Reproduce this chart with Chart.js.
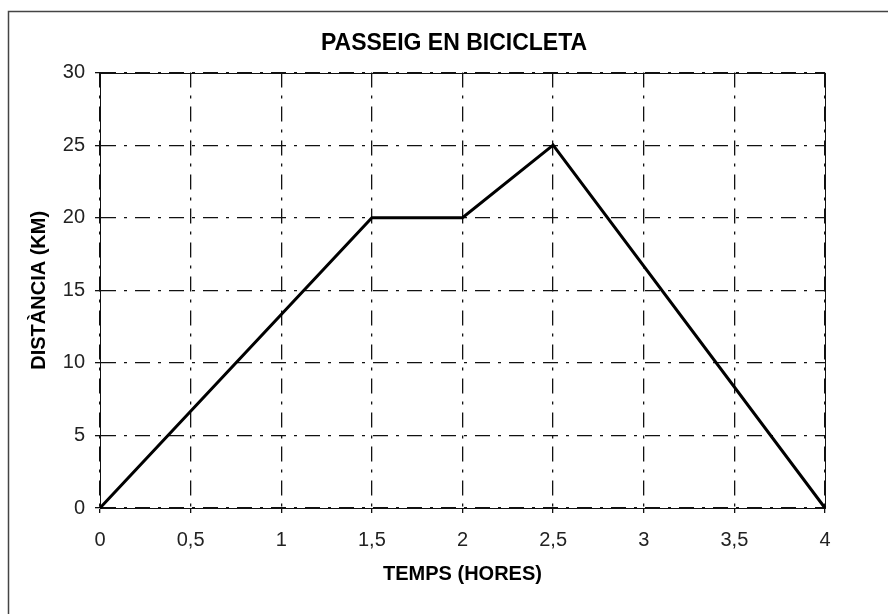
<!DOCTYPE html>
<html>
<head>
<meta charset="utf-8">
<script src="https://cdn.jsdelivr.net/npm/chart.js@4/dist/chart.umd.min.js"></script>
<style>
  html, body { margin: 0; padding: 0; background: #fff; }
  #caixa { width: 888px; height: 614px; }
</style>
</head>
<body>
<div id="caixa"><canvas id="grafic" width="888" height="614"></canvas></div>
<script>
// punts del recorregut: temps (hores) i distància (km)
const hores = [0, 1.5, 2, 2.5, 4];
const distancia = [0, 20, 20, 25, 0];

// valors marcats als eixos
const ticsTemps = [0, 0.5, 1, 1.5, 2, 2.5, 3, 3.5, 4];
const ticsDistancia = [0, 5, 10, 15, 20, 25, 30];

const titol = 'PASSEIG EN BICICLETA';
const titolX = 'TEMPS (HORES)';
const titolY = 'DISTÀNCIA (KM)';

const lletra = 'Liberation Sans, Arial, sans-serif';
const ratlla = [15, 8, 3, 8];

// marc exterior i requadre sòlid de l'àrea del gràfic
const marcs = {
    id: 'marcs',
    beforeDraw(chart) {
        const c = chart.ctx;
        c.save();
        c.strokeStyle = '#444';
        c.lineWidth = 1.5;
        c.beginPath();
        c.moveTo(8.5, chart.height);
        c.lineTo(8.5, 11.5);
        c.lineTo(chart.width, 11.5);
        c.stroke();
        c.restore();
    },
    beforeDatasetsDraw(chart) {
        const a = chart.chartArea, c = chart.ctx;
        c.save();
        c.strokeStyle = '#111';
        c.lineWidth = 1;
        c.strokeRect(Math.round(a.left) + 0.5, Math.round(a.top) + 0.5,
            Math.round(a.right - a.left), Math.round(a.bottom - a.top));
        c.restore();
    }
};

const coma = v => String(v).replace('.', ',');

let myChart = new Chart(document.getElementById('grafic').getContext('2d'), {
    type: 'line',
    data: {
        datasets: [{
            label: titol,
            data: hores.map((h, i) => ({ x: h, y: distancia[i] })),
            borderColor: '#000',
            borderWidth: 3,
            pointRadius: 0,
            tension: 0,
            fill: false,
            clip: false
        }]
    },
    options: {
        responsive: false,
        animation: false,
        layout: { padding: { left: 20, right: 0, top: 0, bottom: 0 } },
        scales: {
            x: {
                type: 'linear',
                min: 0,
                max: 4,
                afterBuildTicks: s => { s.ticks = ticsTemps.map(v => ({ value: v })); },
                afterFit: s => { s.height = 106; },
                ticks: {
                    callback: coma,
                    autoSkip: false,
                    maxRotation: 0,
                    padding: 15,
                    color: '#222',
                    font: { family: lletra, size: 20 }
                },
                grid: { color: '#111', lineWidth: 1.3, tickLength: 5, tickColor: '#111' },
                border: { display: true, color: '#111', width: 1, dash: ratlla },
                title: {
                    display: true,
                    text: titolX,
                    color: '#000',
                    font: { family: lletra, size: 20, weight: 'bold' },
                    padding: { top: 0, bottom: 28 }
                }
            },
            y: {
                min: 0,
                max: 30,
                afterBuildTicks: s => { s.ticks = ticsDistancia.map(v => ({ value: v })); },
                afterFit: s => { s.width = 80; },
                ticks: {
                    callback: coma,
                    padding: 10,
                    color: '#222',
                    font: { family: lletra, size: 20 }
                },
                grid: { color: '#111', lineWidth: 1.3, tickLength: 5, tickColor: '#111' },
                border: { display: true, color: '#111', width: 1, dash: ratlla },
                title: {
                    display: true,
                    text: titolY,
                    color: '#000',
                    font: { family: lletra, size: 20, weight: 'bold' },
                    padding: { top: 7, bottom: 0 }
                }
            },
            // espai buit a la dreta del gràfic
            dreta: {
                position: 'right',
                display: true,
                ticks: { display: false },
                grid: { display: false },
                border: { display: false },
                afterFit: s => { s.width = 63; }
            }
        },
        plugins: {
            legend: { display: false },
            tooltip: { enabled: false },
            title: {
                display: true,
                text: titol,
                color: '#000',
                font: { family: lletra, size: 23, weight: 'bold' },
                padding: { top: 30, bottom: 15 }
            }
        }
    },
    plugins: [marcs]
});
</script>
</body>
</html>
